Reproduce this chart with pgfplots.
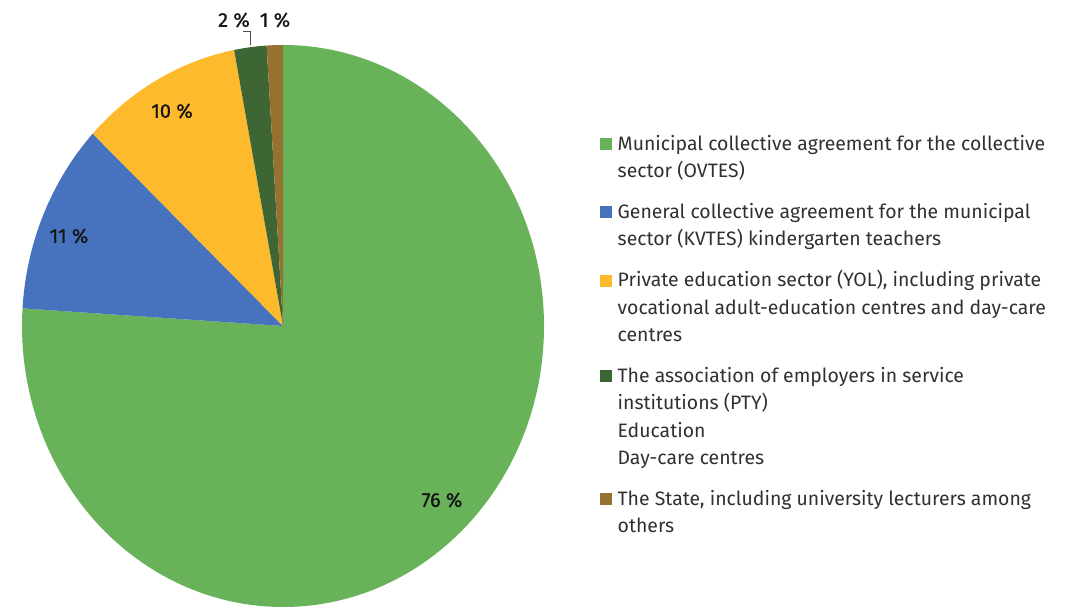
\documentclass[border=0pt]{standalone}
\usepackage{pgfplots}
\pgfplotsset{compat=1.18}
\usepackage{pgfplotstable}
\usepackage{fontspec}
\setmainfont{Fira Sans}
\newfontfamily\lblfont[FakeBold=0.8]{Fira Sans}

\definecolor{cgreen}{HTML}{68B25A}
\definecolor{cblue}{HTML}{4672BE}
\definecolor{cyellow}{HTML}{FCBA2C}
\definecolor{cdgreen}{HTML}{3E6634}
\definecolor{cbrown}{HTML}{967230}
\definecolor{txt}{HTML}{303030}
\definecolor{lbl}{HTML}{141414}

% share in %, colour, label position (px from left, px from bottom)
\pgfplotstableread{
share col lx ly
76 cgreen 442 109
11 cblue 69 373
10 cyellow 172 498
2 cdgreen 234 589
1 cbrown 275 589
}\piedata

\begin{document}
\begin{tikzpicture}
\begin{axis}[
  width=1071bp, height=609bp, scale only axis,
  xmin=0, xmax=1071, ymin=0, ymax=609,
  hide axis, clip=false,
  legend style={at={(0.5602,0.7853)}, anchor=north west, draw=none, fill=none,
    inner sep=0pt, row sep=20bp, column sep=5.5bp,
    font=\fontsize{19.5}{27.5}\selectfont, text=txt,
    nodes={inner sep=0pt, align=left}, cells={anchor=north west}},
  legend image code/.code={\fill[#1] (0bp,-19.25bp) rectangle (12bp,-7.25bp);},
]
\path (axis cs:0,0) rectangle (axis cs:1071,609);

\pgfplotstablegetrowsof{\piedata}
\pgfmathtruncatemacro\last{\pgfplotsretval-1}
\def\cum{0}
\pgfplotsforeachungrouped \i in {0,...,\last}{%
  \pgfplotstablegetelem{\i}{share}\of\piedata \let\v\pgfplotsretval
  \pgfplotstablegetelem{\i}{col}\of\piedata \let\c\pgfplotsretval
  \pgfplotstablegetelem{\i}{lx}\of\piedata \let\lx\pgfplotsretval
  \pgfplotstablegetelem{\i}{ly}\of\piedata \let\ly\pgfplotsretval
  \pgfmathsetmacro\a{90-3.6*\cum}
  \pgfmathsetmacro\b{90-3.6*(\cum+\v)}
  \pgfmathsetmacro\sx{283+261*cos(\a)}
  \pgfmathsetmacro\sy{283+281*sin(\a)}
  \edef\temp{\noexpand\fill[\c] (axis cs:283,283) -- (axis cs:\sx,\sy)
      arc[start angle=\a, end angle=\b, x radius=261bp, y radius=281bp] -- cycle;
    \noexpand\node[font=\noexpand\lblfont\noexpand\fontsize{20}{24}\noexpand\selectfont, text=lbl]
      at (axis cs:\lx,\ly) {\v\noexpand\ \noexpand\%};}
  \temp
  \pgfmathsetmacro\cum{\cum+\v}
}
\draw[black!70, line width=0.8bp] (axis cs:243,578) -- (axis cs:250,578) -- (axis cs:250,564);

\addlegendimage{fill=cgreen, draw=none}
\addlegendentry{\strut Municipal collective agreement for the collective\\sector (OVTES)\strut}
\addlegendimage{fill=cblue, draw=none}
\addlegendentry{\strut General collective agreement for the municipal\\sector (KVTES) kindergarten teachers\strut}
\addlegendimage{fill=cyellow, draw=none}
\addlegendentry{\strut Private education sector (YOL), including private\\vocational adult-education centres and day-care\\centres\strut}
\addlegendimage{fill=cdgreen, draw=none}
\addlegendentry{\strut The association of employers in service\\institutions (PTY)\\Education\\Day-care centres\strut}
\addlegendimage{fill=cbrown, draw=none}
\addlegendentry{\strut The State, including university lecturers among\\others\strut}
\end{axis}
\end{tikzpicture}
\end{document}
